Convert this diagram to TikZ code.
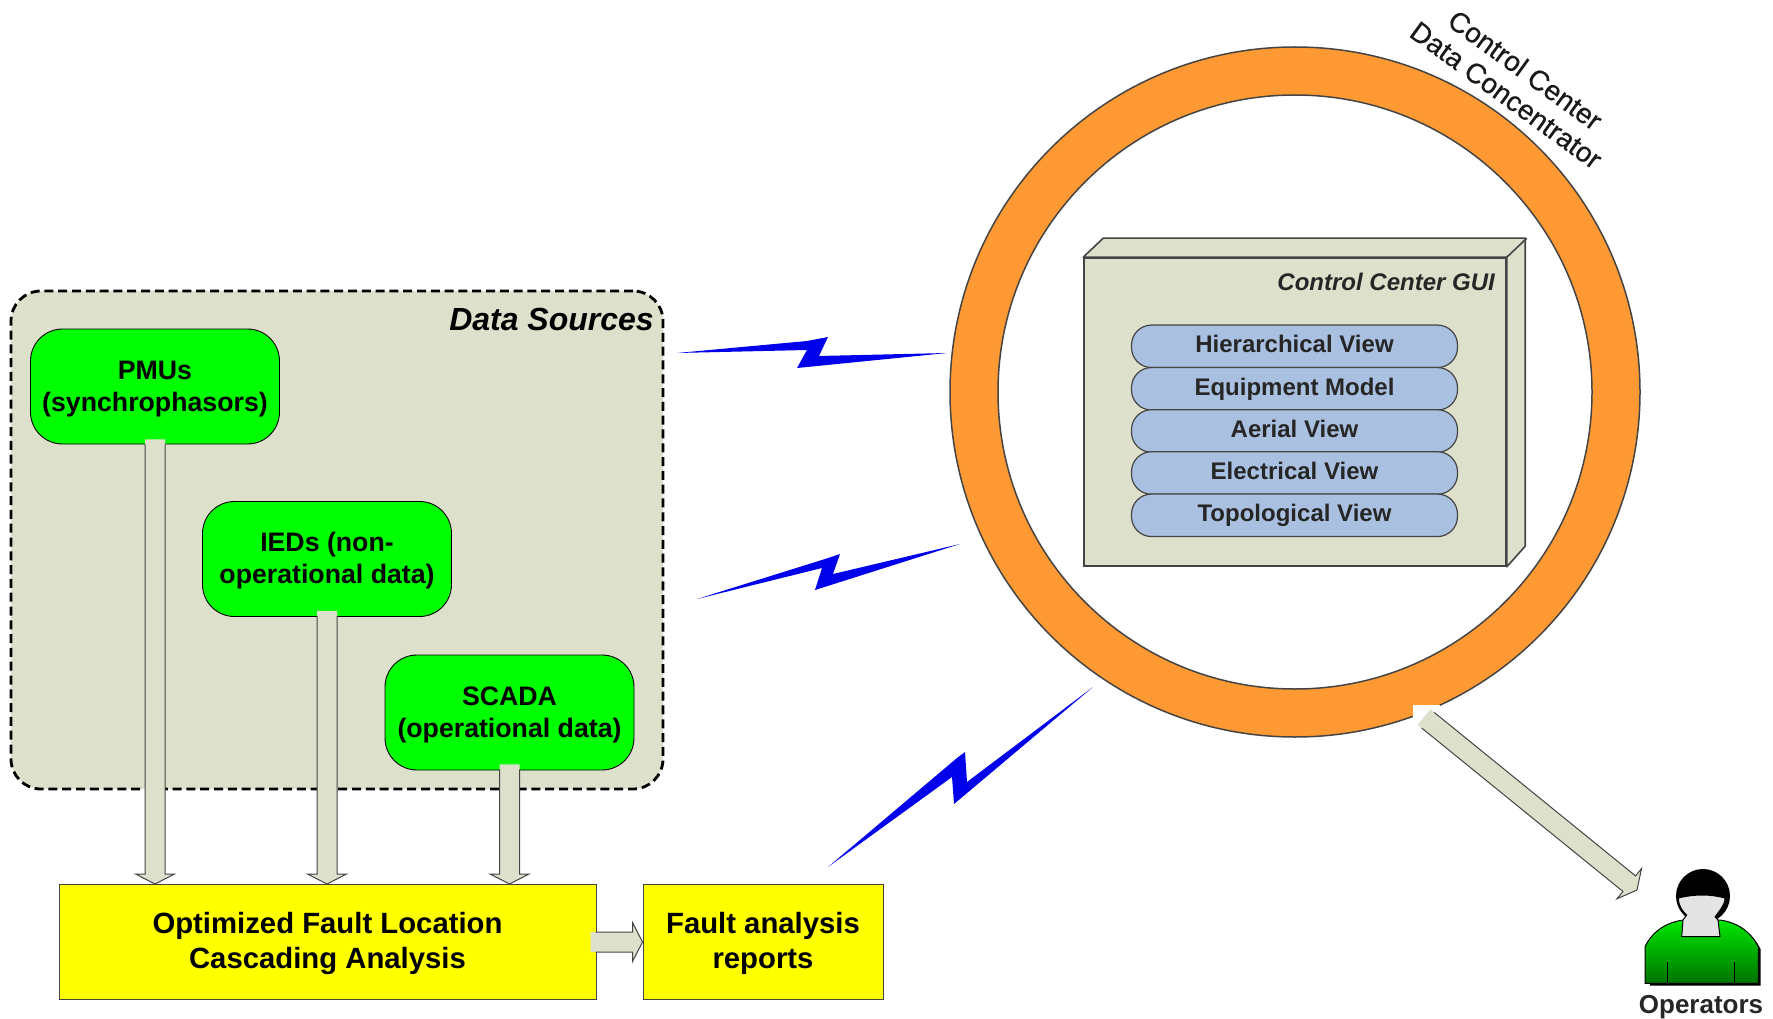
\documentclass[tikz,border=0pt]{standalone}
\usepackage{fontspec}
\setmainfont{Liberation Sans}
\newfontfamily\labelfont[FakeBold=0.4]{Liberation Sans}
\usetikzlibrary{calc}
\definecolor{sage}{HTML}{DDE1CC}
\definecolor{ringorange}{HTML}{FF9933}
\definecolor{pillblue}{HTML}{AAC0E0}
\definecolor{boltblue}{RGB}{0,0,235}
\definecolor{edgegrey}{HTML}{444444}
\definecolor{facegrey}{HTML}{E4E4E4}
\definecolor{pureyellow}{RGB}{255,255,0}
\definecolor{puregreen}{RGB}{0,255,0}
\newcommand{\fs}[2]{\fontsize{#1}{#2}\selectfont}
% block arrow from coordinate #1 to coordinate #2: open tail, outlined sides and head
\newcommand{\blockarrow}[2]{%
  \coordinate (ba-s) at ($(#1)!5pt!(#2)$);
  \coordinate (ba-c) at ($(#2)!10pt!(#1)$);
  \fill[arrowfill] ($(#1)!10pt!90:(#2)$) -- ($(ba-c)!10pt!90:(#2)$) -- ($(ba-c)!19.5pt!90:(#2)$) -- (#2)
     -- ($(ba-c)!19.5pt!-90:(#2)$) -- ($(ba-c)!10pt!-90:(#2)$) -- ($(#1)!10pt!-90:(#2)$) -- cycle;
  \draw[arrowline] ($(ba-s)!10pt!90:(#2)$) -- ($(ba-c)!10pt!90:(#2)$) -- ($(ba-c)!19.5pt!90:(#2)$) -- (#2)
     -- ($(ba-c)!19.5pt!-90:(#2)$) -- ($(ba-c)!10pt!-90:(#2)$) -- ($(ba-s)!10pt!-90:(#2)$);
}
\tikzset{
  arrowfill/.style={fill=sage},
  arrowline/.style={draw=edgegrey,line width=1pt,line join=miter},
  sourcebox/.style={draw=black,line width=0.9pt,fill=puregreen,rounded corners=32pt,
     minimum width=249pt,minimum height=115pt,inner sep=0pt,align=center,
     font=\bfseries\fs{26.7}{32}},
  yellowbox/.style={draw=edgegrey,line width=1pt,fill=pureyellow,minimum height=115pt,inner sep=0pt,
     align=center,font=\bfseries\fs{29.3}{35}},
  pill/.style={draw=edgegrey,line width=1.2pt,fill=pillblue,rounded corners=20pt,
     minimum width=326pt,minimum height=42.5pt,inner sep=0pt,text height=18pt,text depth=5.2pt,
     font=\bfseries\fs{24}{28},text=black!85},
  bolt/.style={fill=boltblue,draw=none},
  arclabel/.style={anchor=base,rotate=-36,inner sep=0pt,font=\labelfont\fs{28}{30},text=black!90},
}
\newcommand{\lift}[1]{\rule{0pt}{#1pt}}
\begin{document}
\begin{tikzpicture}[x=1pt,y=-1pt]
\useasboundingbox (0,0) rectangle (1773,1019);
\fill[white] (0,0) rectangle (1773,1019);

% data sources region
\node[draw=black,line width=2.8pt,dash pattern=on 9pt off 4.8pt,fill=sage,rounded corners=30pt,
  minimum width=652pt,minimum height=498pt,inner sep=0pt] (sources) at (337,540) {};
\node[anchor=east,inner sep=0pt,font=\bfseries\itshape\fs{32}{36}] (sourcestitle) at (654,319) {Data Sources};

\node[sourcebox] (pmu) at (155,386.5) {\lift{23.5}PMUs\\(synchrophasors)};
\node[sourcebox] (ied) at (327,559) {\lift{23}IEDs (non-\\operational data)};
\node[sourcebox] (scada) at (509.5,712.5) {\lift{24}SCADA\\(operational data)};

\node[yellowbox,minimum width=537pt] (opt) at (327.5,942) {\lift{23.5}Optimized Fault Location\\Cascading Analysis};
\node[yellowbox,minimum width=240pt] (reports) at (763,942) {\lift{23.5}Fault analysis\\reports};

% vertical and horizontal block arrows
\coordinate (pmutail) at ($(pmu.south)+(0,-5)$);
\coordinate (pmutip) at (pmu.south |- opt.north);
\coordinate (iedtail) at ($(ied.south)+(0,-6)$);
\coordinate (iedtip) at (ied.south |- opt.north);
\coordinate (scadatail) at ($(scada.south)+(0,-6)$);
\coordinate (scadatip) at (scada.south |- opt.north);
\coordinate (opttail) at ($(opt.east)+(-6,0)$);
\blockarrow{pmutail}{pmutip}
\blockarrow{iedtail}{iedtip}
\blockarrow{scadatail}{scadatip}
\blockarrow{opttail}{reports.west}

% ring
\node[circle,draw=edgegrey,line width=1.5pt,fill=ringorange,minimum size=690pt,inner sep=0pt] (ring) at (1295,392) {};
\node[circle,draw=edgegrey,line width=1.5pt,fill=white,minimum size=594pt,inner sep=0pt] (hole) at (ring.center) {};
\node[arclabel] (cc1) at (1519.5,78) {Control Center};
\node[arclabel] (cc2) at (1500.5,103) {Data Concentrator};

% control center GUI
\node[draw=edgegrey,line width=1.6pt,fill=sage,minimum width=422pt,minimum height=308pt,inner sep=0pt] (gui) at (1295,412) {};
\draw[draw=edgegrey,line width=1.6pt,fill=sage,line join=round]
  (gui.north west) -- ++(20,-19) -- ++(422,0) -- ++(0,308) -- (gui.south east) -- (gui.north east) -- cycle;
\draw[draw=edgegrey,line width=1.6pt] (gui.north east) -- ++(20,-19);
\node[anchor=east,inner sep=0pt,font=\bfseries\itshape\fs{24}{28},text=black!85] (guititle) at (1495,282) {Control Center GUI};
\node[pill] (v1) at (1294.5,346.3) {Hierarchical View};
\node[pill] (v2) at (1294.5,388.8) {Equipment Model};
\node[pill] (v3) at (1294.5,431) {Aerial View};
\node[pill] (v4) at (1294.5,473) {Electrical View};
\node[pill] (v5) at (1294.5,515.3) {Topological View};

% wireless links
\fill[bolt] (677,353) -- (807,341) -- (828,337) -- (819,356) -- (947,353) -- (797,368) -- (807,350) -- cycle;
\fill[bolt] (697,599) -- (825,559) -- (840,554) -- (833,574) -- (960,544) -- (815,590) -- (822,568) -- cycle;
\fill[bolt] (828,867) -- (957,758) -- (965,752) -- (967,782) -- (1093,687) -- (954,804) -- (952,777) -- cycle;

% operator
\fill[white] (1413,705) rectangle (1440,725);
\coordinate (optail) at (1424,717);
\coordinate (optip) at (1637,890);
\blockarrow{optail}{optip}

\fill[black] (1703,896) circle (27pt);
\fill[black] (1647,949) .. controls (1655,932) and (1670,924) .. (1685,922) -- (1722,922)
  .. controls (1737,924) and (1752,932) .. (1760.5,949) -- (1760.5,985.5) -- (1650,985.5) -- cycle;
\draw[draw=black,line width=1pt,top color=puregreen!90!black,bottom color=puregreen!45!black]
  (1645,946.7) .. controls (1653,930) and (1668,922) .. (1683.3,920) -- (1720,920)
  .. controls (1735,922) and (1750,930) .. (1758.3,946.7) -- (1758.3,983.3) -- (1645,983.3) -- cycle;
\draw[black,line width=1pt] (1667.7,961.7) -- (1667.7,983.3) (1734.3,961.7) -- (1734.3,983.3);
\draw[draw=black,line width=1pt,fill=facegrey]
  (1678.3,898) .. controls (1695,894) and (1710,894) .. (1725,898)
  .. controls (1725,906) and (1718,912) .. (1715,917) -- (1718,920) -- (1720,936.7) -- (1681.7,936.7) -- (1683,920) -- (1686.7,915)
  .. controls (1682,911) and (1678.3,905) .. (1678.3,898) -- cycle;
\node[inner sep=0pt,font=\bfseries\fs{26}{28},text=black!85] (ops) at (1701,1007) {Operators};
\end{tikzpicture}
\end{document}
